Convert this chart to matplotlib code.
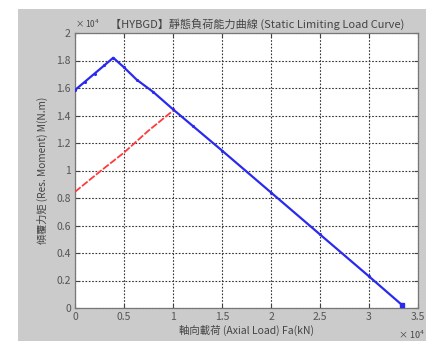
import matplotlib.pyplot as plt
from matplotlib.patches import Rectangle
from matplotlib.ticker import FuncFormatter

plt.rcParams['font.family'] = ['Noto Sans CJK TC', 'DejaVu Sans']

# static limiting load curve (axial load N, moment N.m)
blue_fa = [0, 1000, 2000, 3000, 3900, 5000, 6300, 8000, 10000, 12000, 15000, 20000, 25000, 30000, 33400]
blue_m = [15850, 16450, 17050, 17650, 18200, 17500, 16600, 15700, 14450, 13250, 11450, 8400, 5350, 2300, 200]

red_fa = [0, 2500, 5000, 7500, 10000]
red_m = [8450, 9900, 11300, 12900, 14350]

x_ticks = [0, 5000, 10000, 15000, 20000, 25000, 30000, 35000]
y_ticks = [0, 2000, 4000, 6000, 8000, 10000, 12000, 14000, 16000, 18000, 20000]

title = '【HYBGD】靜態負荷能力曲線 (Static Limiting Load Curve)'
xlabel = '軸向載荷 (Axial Load) Fa(kN)'
ylabel = '傾覆力矩 (Res. Moment) M(N.m)'

txt = '#444444'

fig = plt.figure(figsize=(4.27, 3.41), dpi=100)
fig.patch.set_facecolor('white')
fig.add_artist(Rectangle((18 / 427, 0), 1, (341 - 9) / 341, transform=fig.transFigure,
                         facecolor='#cbcbcb', edgecolor='none', zorder=0))

ax = fig.add_axes([75 / 427, 33 / 341, 343 / 427, 275 / 341])
ax.set_facecolor('white')

ax.plot(blue_fa, blue_m, color='#2a2aee', lw=1.6, marker='.', ms=2.5, zorder=3)
ax.plot(blue_fa[-1:], blue_m[-1:], 's', color='#2a2aee', ms=3, zorder=3)
ax.plot(red_fa, red_m, color='#ff3a3a', lw=1.3, ls=(0, (4, 1)), zorder=3)

ax.set_xlim(0, 35000)
ax.set_ylim(0, 20000)
ax.set_xticks(x_ticks)
ax.set_yticks(y_ticks)
fmt = FuncFormatter(lambda v, p: '{:g}'.format(round(v / 1e4, 2)))
ax.xaxis.set_major_formatter(fmt)
ax.yaxis.set_major_formatter(fmt)
ax.tick_params(direction='in', length=3, labelsize=7.5, colors='#444444', labelcolor='#555555',
               top=True, right=True, pad=3)
ax.grid(True, color='#333333', ls=(0, (1.5, 1.5)), lw=0.8)
for s in ax.spines.values():
    s.set_color('#777777')
    s.set_linewidth(0.9)

ax.set_title(title, fontsize=8, color=txt, pad=4, x=0.53)
ax.set_xlabel(xlabel, fontsize=7.5, color=txt, labelpad=2)
ax.set_ylabel(ylabel, fontsize=7.3, color=txt, labelpad=6)
ax.text(0.0, 1.012, '× 10$^4$', transform=ax.transAxes, fontsize=6, color=txt, ha='left', va='bottom')
ax.text(1.02, -0.075, '× 10$^4$', transform=ax.transAxes, fontsize=6.5, color=txt, ha='right', va='top')

fig.savefig('out.png', dpi=100)
